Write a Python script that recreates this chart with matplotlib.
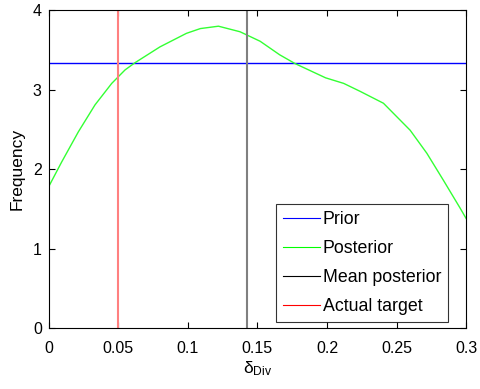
import matplotlib
matplotlib.use("Agg")
import matplotlib.pyplot as plt
from matplotlib.lines import Line2D

plt.rcParams['font.family'] = ['Liberation Sans', 'DejaVu Sans']
plt.rcParams['mathtext.fontset'] = 'custom'
plt.rcParams['mathtext.rm'] = 'Liberation Sans'
plt.rcParams['mathtext.it'] = 'Liberation Sans:italic'

# Posterior density of delta_Div
post_x = [0.0, 0.0093, 0.0213, 0.0333, 0.0453, 0.0549, 0.062, 0.080, 0.099,
          0.109, 0.122, 0.1375, 0.152, 0.166, 0.177, 0.199, 0.212, 0.2238,
          0.2406, 0.2598, 0.2718, 0.2837, 0.2957, 0.3]
post_y = [1.78, 2.09, 2.47, 2.81, 3.08, 3.25, 3.34, 3.54, 3.71,
          3.77, 3.80, 3.73, 3.61, 3.44, 3.33, 3.15, 3.08, 2.98,
          2.83, 2.49, 2.20, 1.86, 1.51, 1.38]

prior_range = (0.0, 0.3)
prior_level = 1.0 / (prior_range[1] - prior_range[0])
mean_posterior = 0.1424
actual_target = 0.05

x_ticks = [0, 0.05, 0.1, 0.15, 0.2, 0.25, 0.3]
x_tick_labels = ['0', '0.05', '0.1', '0.15', '0.2', '0.25', '0.3']
y_ticks = [0, 1, 2, 3, 4]

fig = plt.figure(figsize=(4.8, 3.89), dpi=100)
ax = fig.add_axes([0.1015, 0.1568, 0.8695, 0.8167])

ax.axhline(prior_level, color='#0000ff', lw=1.0)
ax.plot(post_x, post_y, color='#33ff33', lw=1.0)
ax.axvline(mean_posterior, color='#808080', lw=1.5)
ax.axvline(actual_target, color='#ff8080', lw=1.5)

ax.set_xlim(0, 0.3)
ax.set_ylim(0, 4)
ax.set_xticks(x_ticks)
ax.set_xticklabels(x_tick_labels)
ax.set_yticks(y_ticks)
ax.tick_params(direction='in', top=True, right=True, length=4, width=0.8,
               labelsize=11.5)
ax.tick_params(axis='x', pad=9)
ax.tick_params(axis='y', pad=5)
for s in ax.spines.values():
    s.set_linewidth(0.8)

ax.set_xlabel(r'δ$_{\mathrm{Div}}$', fontsize=12.5, labelpad=3)
ax.set_ylabel('Frequency', fontsize=12.5, labelpad=6)

handles = [Line2D([], [], color='#0000ff', lw=0.8),
           Line2D([], [], color='#00ff00', lw=0.8),
           Line2D([], [], color='#000000', lw=0.8),
           Line2D([], [], color='#ff0000', lw=0.8)]
labels = ['Prior', 'Posterior', 'Mean posterior', 'Actual target']
leg = ax.legend(handles, labels, loc='lower right', fontsize=12.8,
                frameon=True, fancybox=False, edgecolor='black',
                borderpad=0.4, handlelength=2.1, handletextpad=0.15,
                labelspacing=0.68, borderaxespad=0,
                bbox_to_anchor=(0.9576, 0.018))
leg.get_frame().set_linewidth(0.8)

fig.savefig('out.png', dpi=100)
